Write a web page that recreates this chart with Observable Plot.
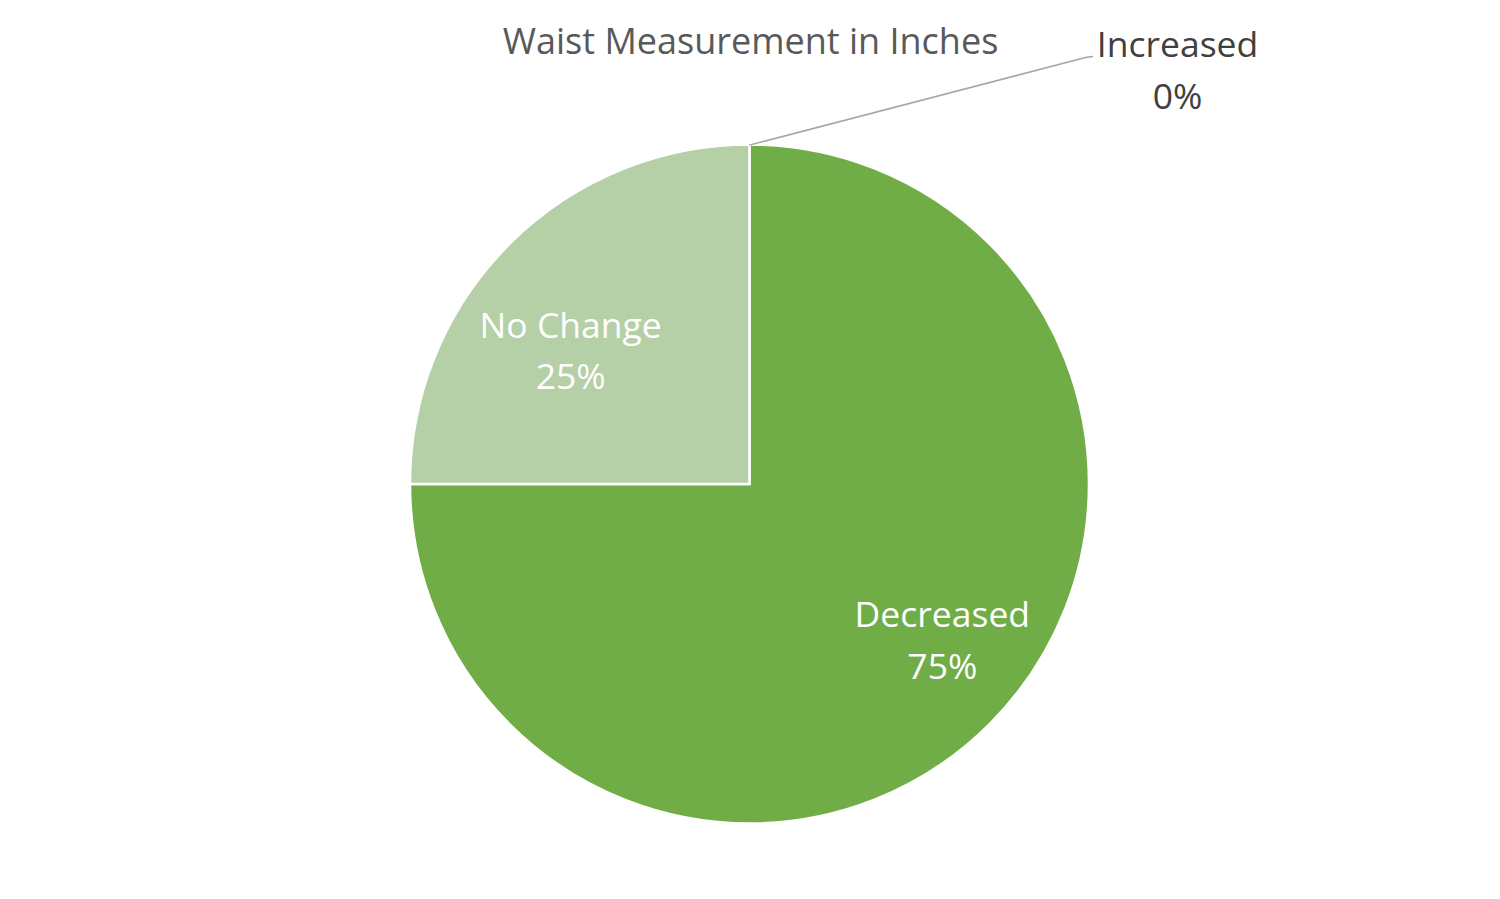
<!DOCTYPE html>
<html>
<head>
<meta charset="utf-8">
<script src="https://cdn.jsdelivr.net/npm/d3@7"></script>
<script src="https://cdn.jsdelivr.net/npm/@observablehq/plot@0.6"></script>
<style>
  html, body { margin: 0; padding: 0; background: #ffffff; }
  #chart svg { display: block; }
</style>
</head>
<body>
<div id="chart"></div>
<script>
// ---- data ----
const title = "Waist Measurement in Inches";
const categories = ["Increased", "Decreased", "No Change"];
const values = [0, 75, 25];
const colors = ["#548235", "#70AD47", "#B5CFA7"];
const labelColors = ["#404040", "#ffffff", "#ffffff"];

// ---- layout (pixels / polar label placement, separate from data) ----
const W = 1500, H = 899;
const R = 339.5;              // pie radius in px
const CX = 749.5, CY = 484;   // pie centre in px
// label placement: [angle in degrees clockwise from 12 o'clock, distance in radii]
const labelPlacement = {
  "Increased": null,
  "Decreased": [129.2, 0.731],
  "No Change": [306.5, 0.657]
};

const total = d3.sum(values);
const table = categories.map((c, i) => ({
  category: c,
  value: values[i],
  color: colors[i],
  labelColor: labelColors[i],
  label: `${c}\n${Math.round(values[i] / total * 100)}%`
}));

const arcs = d3.pie().sort(null).value(d => d.value)(table);

// data-unit coordinates: pie radius = 1, centre = (0,0)
const xDomain = [-CX / R, (W - CX) / R];
const yDomain = [-(H - CY) / R, CY / R];

const insideLabels = arcs.filter(a => labelPlacement[a.data.category]).map(a => {
  const [deg, k] = labelPlacement[a.data.category];
  const t = deg * Math.PI / 180;
  return { ...a.data, x: k * Math.sin(t), y: k * Math.cos(t) };
});

// outside label for the zero slice with a leader line
const inc = arcs.find(a => a.data.category === "Increased");
const incAngle = inc.startAngle;
const incEdge = { x: Math.sin(incAngle), y: Math.cos(incAngle) };
const incElbow = { x: (1085 - CX) / R, y: (CY - 57) / R };
const incEnd = { x: (1092 - CX) / R, y: (CY - 56) / R };
const incLabel = { ...inc.data, x: (1177 - CX) / R, y: (CY - 70) / R };

function pieSlices(index, scales, values, dimensions, context) {
  const cx = scales.x(0), cy = scales.y(0);
  const r = scales.x(1) - scales.x(0);
  const arc = d3.arc().innerRadius(0).outerRadius(r);
  const g = d3.create("svg:g").attr("transform", `translate(${cx},${cy})`);
  g.selectAll("path")
    .data(arcs.filter(a => a.data.value > 0))
    .join("path")
    .attr("d", arc)
    .attr("fill", d => d.data.color)
    .attr("stroke", "#ffffff")
    .attr("stroke-width", 2.5)
    .attr("stroke-linejoin", "miter");
  return g.node();
}

const chart = Plot.plot({
  width: W,
  height: H,
  margin: 0,
  style: { background: "#ffffff", fontFamily: "'Open Sans', sans-serif" },
  x: { domain: xDomain, axis: null },
  y: { domain: yDomain, axis: null },
  marks: [
    pieSlices,
    Plot.line([incEdge, incElbow, incEnd], {
      x: "x", y: "y", stroke: "#A6A6A6", strokeWidth: 1.5
    }),
    Plot.text(insideLabels, {
      x: "x", y: "y", text: "label", fill: "labelColor",
      fontSize: 35.5, lineHeight: 1.45, textAnchor: "middle", dy: -5
    }),
    Plot.text([incLabel], {
      x: "x", y: "y", text: "label", fill: "labelColor",
      fontSize: 35.5, lineHeight: 1.45, textAnchor: "middle", dy: -4
    }),
    Plot.text([title], {
      frameAnchor: "top", lineAnchor: "middle", dy: 42,
      text: d => d, fill: "#595959", fontSize: 36
    })
  ]
});

document.getElementById("chart").appendChild(chart);
</script>
</body>
</html>
